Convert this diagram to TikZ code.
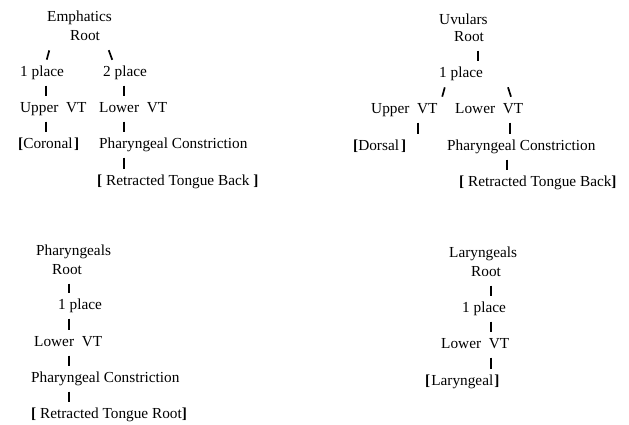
\documentclass[tikz,border=0pt]{standalone}
\usepackage{fontspec}
\setmainfont{Liberation Serif}
\newcommand{\opbr}{\textbf{[}}
\newcommand{\clbr}{\textbf{]}}
\begin{document}
\begin{tikzpicture}[
        x=1pt, y=1pt,
        every node/.style={anchor=west, inner sep=0pt, text height=10.5pt, text depth=3.3pt, font=\fontsize{15.3}{18}\selectfont},
        bar/.style={line width=1.8pt, shorten <=5.5pt, shorten >=5.5pt},
        slash/.style={line width=1.7pt, shorten <=6.5pt, shorten >=6.5pt},
    ]
    \useasboundingbox (0,0) rectangle (629,-424);
    \node (eclass) at (47,-18) {Emphatics};
    \node (eroot) at (70,-37) {Root};
    \node (eone) at (20,-73) {1 place};
    \node (etwo) at (103,-73) {2 place};
    \node (eup) at (20,-109) {Upper~~VT};
    \node (elow) at (99,-109) {Lower~~VT};
    \node (ecor) at (18,-145) {\opbr Coronal\kern1.5pt\clbr};
    \node (epc) at (99,-145) {Pharyngeal Constriction};
    \node (ertb) at (97,-182) {\opbr{} Retracted Tongue Back \clbr};
    \draw[slash] ([xshift=-19pt]eroot.south west) -- ([xshift=25pt]eone.north west);
    \draw[slash] ([xshift=36.5pt]eroot.south west) -- ([xshift=11.5pt]etwo.north west);
    \draw[bar] ([xshift=26pt]eone.south west) -- ([xshift=26pt]eup.north west);
    \draw[bar] ([xshift=26pt]eup.south west) -- ([xshift=28pt]ecor.north west);
    \draw[bar] ([xshift=21pt]etwo.south west) -- ([xshift=25pt]elow.north west);
    \draw[bar] ([xshift=25pt]elow.south west) -- ([xshift=25pt]epc.north west);
    \draw[bar] ([xshift=25pt]epc.south west) -- ([xshift=27pt]ertb.north west);

    \node (uclass) at (439,-21) {Uvulars};
    \node (uroot) at (454,-38) {Root};
    \node (uone) at (439,-74) {1 place};
    \node (uup) at (371,-110) {Upper~~VT};
    \node (ulow) at (455,-110) {Lower~~VT};
    \node (udor) at (353,-147) {\opbr Dorsal\kern2pt\clbr};
    \node (upc) at (447,-147) {Pharyngeal Constriction};
    \node (urtb) at (459,-183) {\opbr{} Retracted Tongue Back\clbr};
    \draw[bar] ([xshift=24pt]uroot.south west) -- ([xshift=39pt]uone.north west);
    \draw[slash] ([xshift=7.5pt]uone.south west) -- ([xshift=69.5pt]uup.north west);
    \draw[slash] ([xshift=67pt]uone.south west) -- ([xshift=58pt]ulow.north west);
    \draw[bar] ([xshift=47pt]uup.south west) -- ([xshift=65pt]udor.north west);
    \draw[bar] ([xshift=55pt]ulow.south west) -- ([xshift=63pt]upc.north west);
    \draw[bar] ([xshift=60pt]upc.south west) -- ([xshift=48pt]urtb.north west);

    \node (pclass) at (36,-252) {Pharyngeals};
    \node (proot) at (52,-271) {Root};
    \node (pone) at (58,-306) {1 place};
    \node (plow) at (34,-343) {Lower~~VT};
    \node (ppc) at (31,-379) {Pharyngeal Constriction};
    \node (prtr) at (31,-415) {\opbr{} Retracted Tongue Root\clbr};
    \draw[bar] ([xshift=17pt]proot.south west) -- ([xshift=11pt]pone.north west);
    \draw[bar] ([xshift=11pt]pone.south west) -- ([xshift=35pt]plow.north west);
    \draw[bar] ([xshift=35pt]plow.south west) -- ([xshift=38pt]ppc.north west);
    \draw[bar] ([xshift=38pt]ppc.south west) -- ([xshift=38pt]prtr.north west);

    \node (lclass) at (449,-254) {Laryngeals};
    \node (lroot) at (471,-273) {Root};
    \node (lone) at (462,-309) {1 place};
    \node (llow) at (441,-345) {Lower~~VT};
    \node (llar) at (425,-382) {\opbr\kern1pt Laryngeal\kern1pt\clbr};
    \draw[bar] ([xshift=20pt]lroot.south west) -- ([xshift=29pt]lone.north west);
    \draw[bar] ([xshift=29pt]lone.south west) -- ([xshift=50pt]llow.north west);
    \draw[bar] ([xshift=50pt]llow.south west) -- ([xshift=66pt]llar.north west);
    \end{tikzpicture}
\end{document}
